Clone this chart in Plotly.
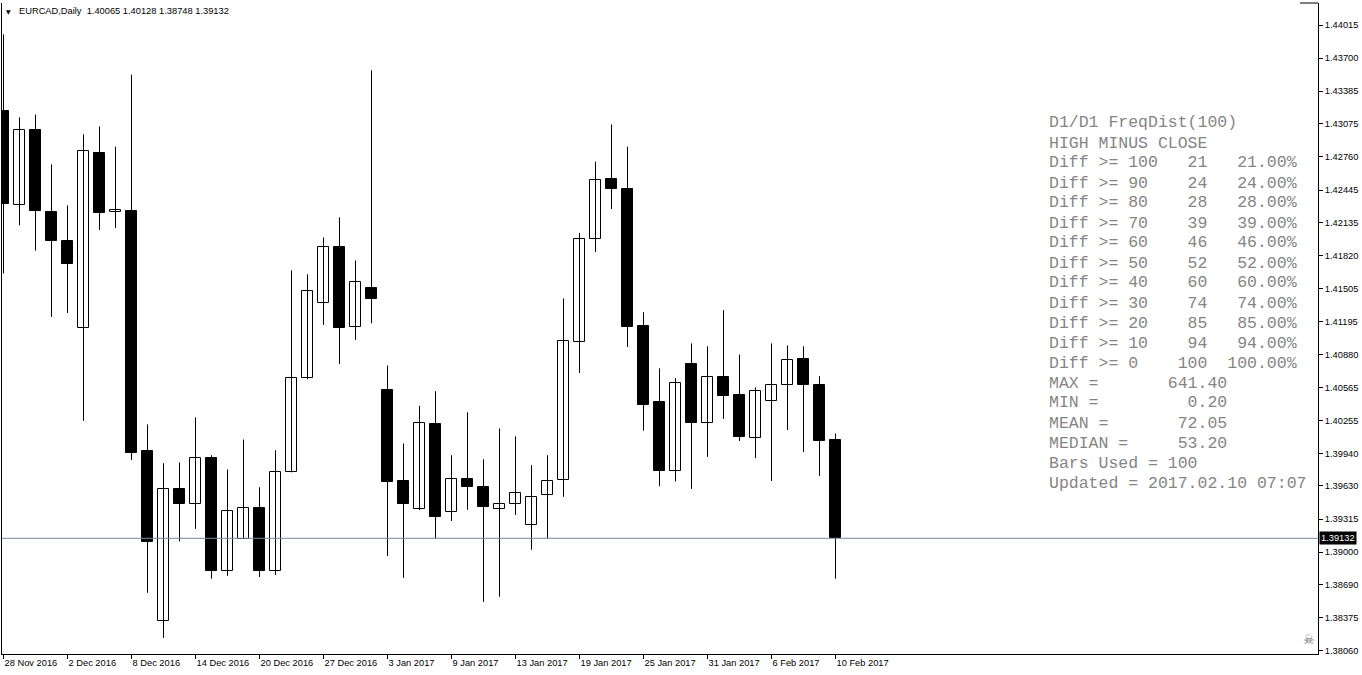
import plotly.graph_objects as go

# ---------------- data ----------------
dates = [
    "2016-11-28", "2016-11-29", "2016-11-30", "2016-12-01", "2016-12-02",
    "2016-12-05", "2016-12-06", "2016-12-07", "2016-12-08", "2016-12-09",
    "2016-12-12", "2016-12-13", "2016-12-14", "2016-12-15", "2016-12-16",
    "2016-12-19", "2016-12-20", "2016-12-21", "2016-12-22", "2016-12-23",
    "2016-12-27", "2016-12-28", "2016-12-29", "2016-12-30",
    "2017-01-03", "2017-01-04", "2017-01-05", "2017-01-06",
    "2017-01-09", "2017-01-10", "2017-01-11", "2017-01-12", "2017-01-13",
    "2017-01-16", "2017-01-17", "2017-01-18", "2017-01-19", "2017-01-20",
    "2017-01-23", "2017-01-24", "2017-01-25", "2017-01-26", "2017-01-27",
    "2017-01-30", "2017-01-31", "2017-02-01", "2017-02-02", "2017-02-03",
    "2017-02-06", "2017-02-07", "2017-02-08", "2017-02-09", "2017-02-10",
]

opens = [
    1.43200, 1.42298, 1.43016, 1.42238, 1.41963, 1.41136, 1.42798, 1.42234, 1.42245, 1.39959,
    1.38350, 1.39602, 1.39463, 1.39892, 1.38824, 1.39128, 1.39422, 1.38824, 1.39767, 1.40659,
    1.41369, 1.41903, 1.41144, 1.41516, 1.40546, 1.39681, 1.39406, 1.40215, 1.39384, 1.39700,
    1.39621, 1.39414, 1.39463, 1.39260, 1.39546, 1.39688, 1.41001, 1.41982, 1.42550, 1.42452,
    1.41147, 1.40425, 1.39775, 1.40786, 1.40230, 1.40662, 1.40493, 1.40087, 1.40440, 1.40591,
    1.40835, 1.40587, 1.40065,
]
highs = [
    1.43926, 1.43136, 1.43163, 1.42689, 1.42298, 1.42975, 1.43050, 1.42858, 1.43542, 1.40215,
    1.39846, 1.39854, 1.40283, 1.39922, 1.39786, 1.40072, 1.39617, 1.39970, 1.41681, 1.41644,
    1.41993, 1.42185, 1.41775, 1.43584, 1.40775, 1.40034, 1.40392, 1.40531, 1.39922, 1.40331,
    1.39884, 1.40177, 1.40102, 1.39828, 1.39922, 1.41414, 1.42038, 1.42715, 1.43069, 1.42858,
    1.41283, 1.40749, 1.40655, 1.40986, 1.40959, 1.41302, 1.40880, 1.40568, 1.40986, 1.40967,
    1.40959, 1.40674, 1.40128,
]
lows = [
    1.41651, 1.42110, 1.41869, 1.41238, 1.41275, 1.40249, 1.42065, 1.42084, 1.39876, 1.38613,
    1.38184, 1.39102, 1.39222, 1.38748, 1.38775, 1.39125, 1.38764, 1.38782, 1.39760, 1.40644,
    1.41162, 1.40790, 1.41020, 1.41177, 1.38963, 1.38756, 1.39400, 1.39132, 1.39297, 1.39403,
    1.38527, 1.38576, 1.39354, 1.39023, 1.39132, 1.39527, 1.40704, 1.41854, 1.42264, 1.40952,
    1.40155, 1.39628, 1.39673, 1.39602, 1.39907, 1.40268, 1.40057, 1.39895, 1.39677, 1.40162,
    1.39952, 1.39726, 1.38748,
]
closes = [
    1.42309, 1.43016, 1.42245, 1.41960, 1.41741, 1.42817, 1.42230, 1.42257, 1.39948, 1.39094,
    1.39602, 1.39463, 1.39892, 1.38824, 1.39395, 1.39422, 1.38824, 1.39767, 1.40659, 1.41486,
    1.41903, 1.41132, 1.41572, 1.41407, 1.39670, 1.39463, 1.40230, 1.39335, 1.39700, 1.39621,
    1.39429, 1.39459, 1.39564, 1.39527, 1.39681, 1.41012, 1.41982, 1.42542, 1.42456, 1.41144,
    1.40403, 1.39771, 1.40613, 1.40230, 1.40662, 1.40486, 1.40095, 1.40538, 1.40587, 1.40824,
    1.40591, 1.40057, 1.39132,
]

x_tick_dates = dates[::4]
x_tick_labels = [
    "28 Nov 2016", "2 Dec 2016", "8 Dec 2016", "14 Dec 2016", "20 Dec 2016",
    "27 Dec 2016", "3 Jan 2017", "9 Jan 2017", "13 Jan 2017", "19 Jan 2017",
    "25 Jan 2017", "31 Jan 2017", "6 Feb 2017", "10 Feb 2017",
]
y_ticks = [
    1.44015, 1.43700, 1.43385, 1.43075, 1.42760, 1.42445, 1.42135, 1.41820, 1.41505, 1.41195,
    1.40880, 1.40565, 1.40255, 1.39940, 1.39630, 1.39315, 1.39000, 1.38690, 1.38375, 1.38060,
]

freq_thresholds = [100, 90, 80, 70, 60, 50, 40, 30, 20, 10, 0]
freq_counts = [21, 24, 28, 39, 46, 52, 60, 74, 85, 94, 100]
freq_pcts = ["21.00%", "24.00%", "28.00%", "39.00%", "46.00%", "52.00%",
             "60.00%", "74.00%", "85.00%", "94.00%", "100.00%"]
stat_labels = ["MAX =", "MIN =", "MEAN =", "MEDIAN ="]
stat_values = ["641.40", "0.20", "72.05", "53.20"]
bars_used = 100
updated = "2017.02.10 07:07"

# ---------------- layout geometry ----------------
W, H = 1362, 675
PL, PR, PT, PB = 2, 1318, 3, 654          # plot area in pixels
X_RANGE = [-0.09375, 82.15625]
Y_RANGE = [1.380313, 1.442243]


def px_to_paper_x(px):
    return (px - PL) / (PR - PL)


def px_to_paper_y(py):
    return (PB - py) / (PB - PT)


fig = go.Figure()

# wicks
wx, wy = [], []
for d, lo, hi in zip(dates, lows, highs):
    wx += [d, d, None]
    wy += [lo, hi, None]
fig.add_trace(go.Scatter(x=wx, y=wy, mode="lines",
                         line=dict(color="black", width=1),
                         hoverinfo="skip", showlegend=False))

# bodies
bases = [min(o, c) for o, c in zip(opens, closes)]
heights = [max(abs(c - o), 0.00001) for o, c in zip(opens, closes)]
colors = ["white" if c >= o else "black" for o, c in zip(opens, closes)]
fig.add_trace(go.Bar(x=dates, y=heights, base=bases, width=0.66,
                     marker=dict(color=colors, line=dict(color="black", width=1)),
                     hoverinfo="skip", showlegend=False))

last_close = closes[-1]

shapes = [
    dict(type="line", xref="paper", yref="y", x0=0, x1=1, y0=last_close, y1=last_close,
         line=dict(color="#778899", width=1)),
    dict(type="line", xref="paper", yref="paper", x0=px_to_paper_x(1300), x1=1, y0=1, y1=1,
         line=dict(color="black", width=1)),
]

annotations = []
label_font = dict(family="Liberation Sans, Arial, sans-serif", size=9.3, color="black")

# header
annotations.append(dict(xref="paper", yref="paper", x=px_to_paper_x(4), y=px_to_paper_y(11),
                        text="▼", showarrow=False, xanchor="left", yanchor="middle",
                        font=dict(family="DejaVu Sans", size=6, color="black")))
header = "EURCAD,Daily  {:.5f} {:.5f} {:.5f} {:.5f}".format(opens[-1], highs[-1], lows[-1], closes[-1])
annotations.append(dict(xref="paper", yref="paper", x=px_to_paper_x(17), y=px_to_paper_y(11),
                        text=header, showarrow=False, xanchor="left", yanchor="middle",
                        font=label_font))

# current price box
annotations.append(dict(xref="paper", yref="y", x=1, y=last_close, xshift=1,
                        text="{:.5f}".format(last_close), showarrow=False,
                        xanchor="left", yanchor="middle", bgcolor="black", borderpad=1,
                        font=dict(family="Liberation Sans, Arial, sans-serif", size=9.3, color="white")))

# stats text block
lines = ["D1/D1 FreqDist(100)", "HIGH MINUS CLOSE"]
for t, c, p in zip(freq_thresholds, freq_counts, freq_pcts):
    lines.append("Diff >= " + f"{t:<3}" + f"{c:>5}" + f"{p:>9}")
for lab, val in zip(stat_labels, stat_values):
    lines.append(f"{lab:<12}{val:>6}")
lines.append(f"Bars Used = {bars_used}")
lines.append(f"Updated = {updated}")

for k, line in enumerate(lines):
    annotations.append(dict(xref="paper", yref="paper", x=px_to_paper_x(1047),
                            y=px_to_paper_y(123 + 20 * k), text=line, showarrow=False,
                            xanchor="left", yanchor="middle",
                            font=dict(family="Liberation Mono, Courier New, monospace",
                                      size=16.5, color="#858585")))

# small icon bottom right
annotations.append(dict(xref="paper", yref="paper", x=px_to_paper_x(1309), y=px_to_paper_y(639),
                        text="☠", showarrow=False, xanchor="center", yanchor="middle",
                        font=dict(family="DejaVu Sans", size=13, color="#707070")))

fig.update_layout(
    width=W, height=H,
    margin=dict(l=PL, r=W - PR, t=PT, b=H - PB, pad=0, autoexpand=False),
    paper_bgcolor="white", plot_bgcolor="white",
    showlegend=False, hovermode=False, bargap=0,
    shapes=shapes, annotations=annotations,
    xaxis=dict(type="category", range=X_RANGE, showgrid=False, zeroline=False,
               showline=True, linecolor="black", linewidth=1,
               ticks="outside", ticklen=4, tickcolor="black", tickwidth=1,
               tickmode="array", tickvals=x_tick_dates, ticktext=x_tick_labels,
               ticklabelposition="outside right",
               tickfont=label_font, fixedrange=True),
    yaxis=dict(range=Y_RANGE, side="right", showgrid=False, zeroline=False,
               showline=True, linecolor="black", linewidth=1, mirror=True,
               ticks="outside", ticklen=4, tickcolor="black", tickwidth=1,
               tickmode="array", tickvals=y_ticks,
               ticktext=["{:.5f}".format(v) for v in y_ticks],
               tickfont=label_font, fixedrange=True),
)

fig.write_html(
    "out.html",
    config={"displayModeBar": False},
    post_script="document.body.style.margin='0';document.body.style.overflow='hidden';",
)
